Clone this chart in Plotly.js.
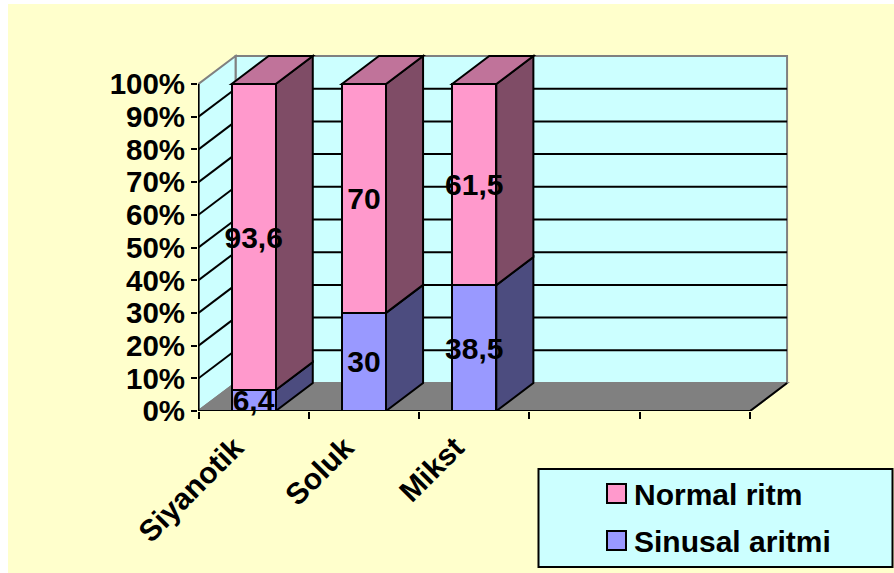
<!DOCTYPE html>
<html>
<head>
<meta charset="utf-8">
<script src="https://cdn.plot.ly/plotly-3.0.1.min.js"></script>
<style>
  html, body { margin: 0; padding: 0; background: #ffffff; overflow: hidden; }
  #chart { position: absolute; left: 8px; top: 4px; width: 886px; height: 569px; }
</style>
</head>
<body>
<div id="chart"></div>
<script>
// Rhythm distribution by cyanosis group, in percent
const categories = ["Siyanotik", "Soluk", "Mikst"];
const sinusalAritmi = [6.4, 30, 38.5];
const normalRitm = [93.6, 70, 61.5];
const seriesNames = ["Normal ritm", "Sinusal aritmi"];
const percentTicks = [0, 10, 20, 30, 40, 50, 60, 70, 80, 90, 100];
const slotCount = 5;

const FONT = "Liberation Sans, Arial, sans-serif";
const TEXT_SIZE = 30;
const PINK = "#FF99CC", PINK_TOP = "#C0739A", PINK_SIDE = "#7F4C66";
const BLUE = "#9999FF", BLUE_SIDE = "#4C4C7F";
const WALL = "#CCFFFF", FLOOR = "#808080", PAGE = "#FFFFCC";

// Oblique projection: depth of the box expressed in axis units
const depthX = 0.336, depthY = 8.56, barWidth = 0.40;
const W = 886, H = 569;
const margin = { l: 190, r: 104, t: 49, b: 162, pad: 0 };
const unitX = 110.3, unitY = 3.27;

const xMin = -0.5 / unitX;
const xMax = xMin + (W - margin.l - margin.r) / unitX;
const yMax = (H - margin.t - margin.b) / unitY;
const paperX = px => (px - 8 - margin.l) / (W - margin.l - margin.r);
const paperY = py => 1 - (py - 4 - margin.t) / (H - margin.t - margin.b);

const poly = pts => "M" + pts.map(p => p[0] + "," + p[1]).join("L") + "Z";
const face = (pts, fill, lineColor, width) => ({
  type: "path", xref: "x", yref: "y", layer: "below", path: poly(pts),
  fillcolor: fill, line: { color: lineColor, width: width === undefined ? 2 : width }
});
const segment = (x0, x1, y0, y1, color, width) => ({
  type: "line", xref: "x", yref: "y", layer: "below", x0, x1, y0, y1,
  line: { color, width: width || 2 }
});

const shapes = [];
// Walls and floor of the box
shapes.push(face([[depthX, depthY], [depthX, 100 + depthY], [slotCount + depthX, 100 + depthY], [slotCount + depthX, depthY]], WALL, FLOOR));
shapes.push(face([[0, 0], [0, 100], [depthX, 100 + depthY], [depthX, depthY]], WALL, FLOOR));
shapes.push(face([[0, 0], [depthX, depthY], [slotCount + depthX, depthY], [slotCount, 0]], FLOOR, FLOOR));
// Gridlines wrap from the side wall onto the back wall
percentTicks.slice(1, -1).forEach(t => {
  shapes.push(segment(0, depthX, t, t + depthY, "#000000"));
  shapes.push(segment(depthX, slotCount + depthX, t + depthY, t + depthY, "#000000"));
});
shapes.push(segment(0, slotCount, 0, 0, "#000000"));
shapes.push(segment(0, 0, 0, 100, "#000000"));
shapes.push(segment(slotCount, slotCount + depthX, 0, depthY, "#000000"));

// Side and top faces of each stacked column
categories.forEach((_, i) => {
  const xr = i + 0.5 + barWidth / 2, xl = i + 0.5 - barWidth / 2;
  const split = sinusalAritmi[i], top = split + normalRitm[i];
  shapes.push(face([[xr, 0], [xr + depthX, depthY], [xr + depthX, split + depthY], [xr, split]], BLUE_SIDE, "#000000"));
  shapes.push(face([[xr, split], [xr + depthX, split + depthY], [xr + depthX, top + depthY], [xr, top]], PINK_SIDE, "#000000"));
  shapes.push(face([[xl, top], [xl + depthX, top + depthY], [xr + depthX, top + depthY], [xr, top]], PINK_TOP, "#000000"));
});

// Legend panel
const legendRows = [
  { name: seriesNames[0], color: PINK, y: 494 },
  { name: seriesNames[1], color: BLUE, y: 541 }
];
shapes.push({
  type: "rect", xref: "paper", yref: "paper", layer: "above",
  x0: paperX(538.5), x1: paperX(892.5), y0: paperY(469), y1: paperY(567),
  fillcolor: WALL, line: { color: "#000000", width: 2 }
});
const annotations = [];
legendRows.forEach(r => {
  shapes.push({
    type: "rect", xref: "paper", yref: "paper", layer: "above",
    x0: paperX(607), x1: paperX(626), y0: paperY(r.y - 10), y1: paperY(r.y + 9),
    fillcolor: r.color, line: { color: "#000000", width: 2 }
  });
  annotations.push({
    xref: "paper", yref: "paper", x: paperX(632), y: paperY(r.y), xanchor: "left", yanchor: "middle",
    text: "<b>" + r.name + "</b>", showarrow: false,
    font: { family: FONT, size: TEXT_SIZE, color: "#000000" }
  });
});

const commaText = arr => arr.map(v => String(v).replace(".", ","));
const columnX = categories.map((_, i) => i + 0.5);
const barTrace = (name, values, color) => ({
  type: "bar", name, x: columnX, y: values, width: barWidth,
  marker: { color, line: { color: "#000000", width: 2 } },
  text: commaText(values), textposition: "inside", insidetextanchor: "middle",
  textangle: 0, constraintext: "none", cliponaxis: false,
  insidetextfont: { family: FONT, size: TEXT_SIZE, color: "#000000", weight: 700 },
  hoverinfo: "skip"
});

const data = [
  barTrace(seriesNames[1], sinusalAritmi, BLUE),
  barTrace(seriesNames[0], normalRitm, PINK)
];

const layout = {
  width: W, height: H, margin, autosize: false, showlegend: false,
  paper_bgcolor: PAGE, plot_bgcolor: "rgba(0,0,0,0)",
  barmode: "stack", font: { family: FONT, color: "#000000" },
  xaxis: {
    range: [xMin, xMax], showgrid: false, zeroline: false, showline: false,
    tickmode: "array", tickvals: columnX, ticktext: categories, ticks: "",
    tickangle: -45, ticklabelstandoff: 12, ticklabelshift: -19,
    tickfont: { family: FONT, size: TEXT_SIZE, color: "#000000", weight: 700 },
    minor: { tickmode: "array", tickvals: [0, 1, 2, 3, 4, 5], ticks: "outside", ticklen: 7, tickwidth: 2, tickcolor: "#000000", showgrid: false }
  },
  yaxis: {
    range: [0, yMax], showgrid: false, zeroline: false, showline: false,
    tickmode: "array", tickvals: percentTicks, ticktext: percentTicks.map(t => t + "%"),
    ticks: "outside", ticklen: 6, tickwidth: 2, tickcolor: "#000000",
    tickfont: { family: FONT, size: 29.5, color: "#000000", weight: 700 }
  },
  shapes, annotations
};

Plotly.newPlot("chart", data, layout, { staticPlot: true, displayModeBar: false });
</script>
</body>
</html>
